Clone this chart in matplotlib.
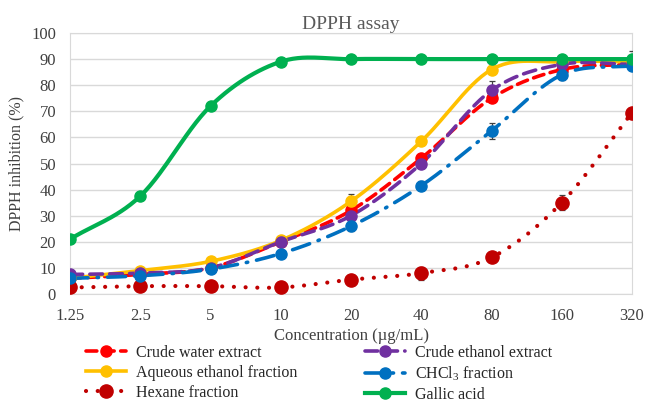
import numpy as np
import matplotlib
matplotlib.use("Agg")
import matplotlib.pyplot as plt
from matplotlib.lines import Line2D

plt.rcParams['font.family'] = ['Liberation Serif', 'DejaVu Serif']
plt.rcParams['mathtext.default'] = 'regular'

conc = ["1.25", "2.5", "5", "10", "20", "40", "80", "160", "320"]

water = [6, 7.5, 10, 20, 32, 52, 75, 86, 88]
water_err = [0.5, 0.5, 0.5, 1, 1, 1.2, 1.5, 1, 1]
aqueous = [6, 9, 12.5, 20.5, 35.5, 58.5, 86, 89, 89]
aqueous_err = [0.5, 0.5, 0.5, 1, 2.7, 1, 1.5, 1, 1]
hexane = [2.5, 3, 3, 2.5, 5.5, 8, 14, 35, 69.5]
hexane_err = [0.5, 0.5, 0.5, 0.5, 0.5, 2.5, 1, 3, 1.5]
ethanol = [7.5, 8, 10, 20, 30, 50, 78, 88, 88]
ethanol_err = [0.5, 0.5, 0.5, 1, 1, 1, 3.7, 1, 1]
chcl3 = [6, 7, 9.5, 15.5, 26, 41.5, 62.5, 84, 87.5]
chcl3_err = [0.5, 0.5, 0.5, 1, 2, 1.7, 3.2, 2, 1.5]
gallic = [21, 37.5, 72, 89, 90, 90, 90, 90, 90]
gallic_err = [0.5, 0.5, 0.5, 0.5, 0.5, 0.5, 0.5, 0.5, 3]


def smooth(y, n=30):
    # Catmull-Rom curve through the points, like Excel's smoothed line
    y = np.asarray(y, float)
    x = np.arange(len(y), dtype=float)
    px = np.concatenate([[2 * x[0] - x[1]], x, [2 * x[-1] - x[-2]]])
    py = np.concatenate([[2 * y[0] - y[1]], y, [2 * y[-1] - y[-2]]])
    xs, ys = [], []
    t = np.linspace(0, 1, n)
    for i in range(1, len(px) - 2):
        for p, out in ((px, xs), (py, ys)):
            p0, p1, p2, p3 = p[i - 1], p[i], p[i + 1], p[i + 2]
            out.append(0.5 * (2 * p1 + (-p0 + p2) * t
                              + (2 * p0 - 5 * p1 + 4 * p2 - p3) * t ** 2
                              + (-p0 + 3 * p1 - 3 * p2 + p3) * t ** 3))
    return np.concatenate(xs), np.concatenate(ys)


series = [
    ("Crude water extract", water, water_err, "#FF0000", (0, (3, 1.8)), 2.6, 8),
    ("Aqueous ethanol fraction", aqueous, aqueous_err, "#FFC000", "-", 2.6, 8),
    ("Hexane fraction", hexane, hexane_err, "#C00000", (0, (0.01, 2.8)), 3, 9.5),
    ("Crude ethanol extract", ethanol, ethanol_err, "#7030A0", (0, (3.5, 2)), 2.6, 8),
    ("CHCl$_{3}$ fraction", chcl3, chcl3_err, "#0070C0", (0, (5, 2.5, 0.4, 2.5)), 2.6, 8),
    ("Gallic acid", gallic, gallic_err, "#00B050", "-", 3, 8),
]

fig = plt.figure(figsize=(6.46, 4.05), dpi=100)
ax = fig.add_axes([70 / 646, 1 - 294 / 405, 562 / 646, 261 / 405])

x = np.arange(len(conc))
handles = []
for name, y, err, c, ls, lw, ms in series:
    sx, sy = smooth(y)
    ax.plot(sx, sy, color=c, ls=ls, lw=lw, dash_capstyle='round', zorder=3)
    ax.errorbar(x, y, yerr=err, fmt='none', ecolor='#404040', elinewidth=0.9,
                capsize=2.5, capthick=0.9, zorder=4)
    ax.plot(x, y, 'o', color=c, ms=ms, mec=c, zorder=5)
    handles.append(Line2D([], [], color=c, ls=ls, lw=lw, marker='o', ms=ms,
                          dash_capstyle='round', label=name))

ax.set_xlim(0, 8)
ax.set_ylim(0, 100)
ax.set_yticks(range(0, 101, 10))
ax.set_xticks(x)
ax.set_xticklabels(conc)
ax.grid(axis='y', color='#d9d9d9', lw=1)
ax.set_axisbelow(True)
for s in ax.spines.values():
    s.set_color('#d9d9d9')
ax.tick_params(length=0, labelsize=12, colors='#404040', pad=10)
ax.set_xlabel("Concentration (µg/mL)", fontsize=12, color='#404040', labelpad=3)
ax.set_ylabel("DPPH inhibition (%)", fontsize=11.5, color='#404040', labelpad=5)
ax.set_title("DPPH assay", fontsize=14, color='#595959', pad=3)

fig.legend(handles=handles, ncol=2, loc='upper left',
           bbox_to_anchor=(78 / 646, 1 - 337 / 405), frameon=False,
           fontsize=11.5, handlelength=2.5, handletextpad=0.65,
           columnspacing=4.2, labelspacing=0.24, borderpad=0,
           labelcolor='#262626')

fig.savefig("out.png", dpi=100)
